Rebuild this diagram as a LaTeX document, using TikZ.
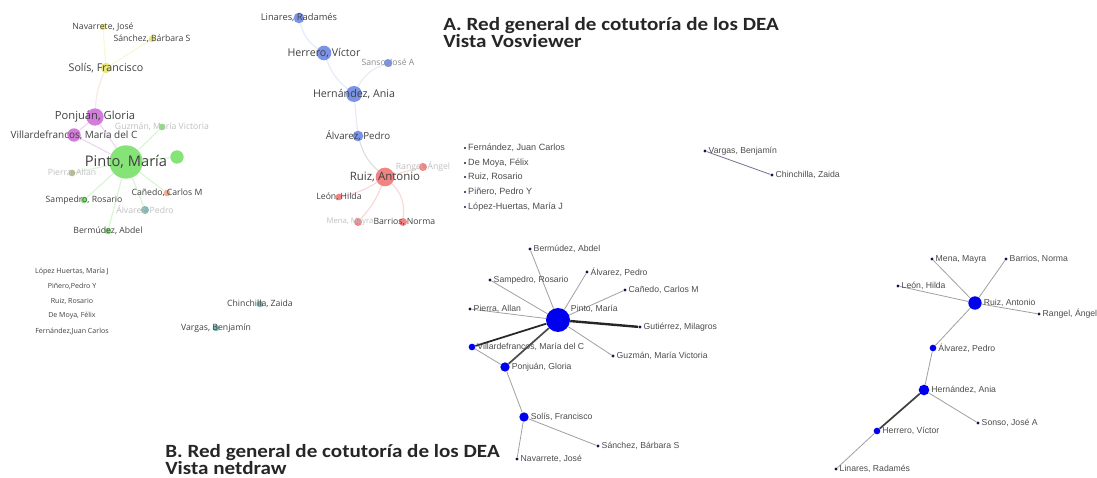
\documentclass[tikz,border=0pt]{standalone}
\usepackage{fontspec}
\setmainfont{Liberation Sans}
\newfontfamily\vosfont{Open Sans}
\newfontfamily\titlefont{Carlito}
\usetikzlibrary{%
    positioning,
    backgrounds
%   shapes, calc
}
\definecolor{vyellow}{HTML}{E6E25A}
\definecolor{vmagenta}{HTML}{C95AD2}
\definecolor{vgreen}{HTML}{66DC55}
\definecolor{vblue}{HTML}{5A78E0}
\definecolor{vred}{HTML}{EE6464}
\definecolor{vteal}{HTML}{5FA8AA}
\definecolor{volive}{HTML}{A8A870}
\definecolor{vsalmon}{HTML}{E89A7A}
\definecolor{ndblue}{HTML}{0000F0}
\definecolor{ndnavy}{HTML}{141448}
\tikzset{
    vnode/.style = {
        circle, draw=none, inner sep=0pt,
        fill opacity = 0.8, text opacity = 1,
    },
    vlab/.style  = {font=\vosfont\fontsize{6.5}{7}\selectfont, text=black!75, inner sep=0pt},
    vlabM/.style = {vlab, font=\vosfont\fontsize{8}{9}\selectfont},
    vlabL/.style = {vlab, font=\vosfont\fontsize{11}{12}\selectfont},
    vlabS/.style = {vlab, font=\vosfont\fontsize{5.3}{6}\selectfont},
    vfaint/.style = {vlab, text=black!25},
    vedge/.style = {line width=0.9pt, opacity=0.25},
    ndot/.style = {circle, fill=ndnavy, inner sep=0pt, minimum size=2.4pt},
    nbig/.style = {circle, fill=ndblue, inner sep=0pt},
    nlab/.style = {font=\fontsize{6.5}{7}\selectfont, text=black!70, inner sep=1.2pt},
    nedge/.style = {gray!75, line width=0.6pt},
    ntie/.style = {black!85, line width=1.8pt},
    titletext/.style = {font=\titlefont\bfseries\fontsize{14}{14}\selectfont, text=black!85, inner sep=0pt, anchor=base west},
}
\newcommand{\widetitle}[1]{\scalebox{1.13}[1]{#1}}

\begin{document}
\begin{tikzpicture}[x=0.75pt, y=-0.75pt]
    \useasboundingbox (0,0) rectangle (1097,478);

    % A. Vosviewer
    \node[titletext] (titleA1) at (443,31) {\widetitle{A. Red general de cotutoría de los DEA}};
    \node[titletext] (titleA2) at (443,48) {\widetitle{Vista Vosviewer}};

    \node[vnode, fill=vyellow, minimum size=5pt, label={[vlab]center:Navarrete, José}] (vnav) at (103,27) {};
    \node[vnode, fill=vyellow, minimum size=5pt, label={[vlab]center:Sánchez, Bárbara S}] (vsan) at (152,39) {};
    \node[vnode, fill=vyellow, minimum size=8pt, label={[vlabM]center:Solís, Francisco}] (vsol) at (106,68) {};
    \node[vnode, fill=vmagenta, minimum size=13pt, label={[vlabM, font=\vosfont\fontsize{8.4}{9}\selectfont]center:Ponjuán, Gloria}] (vpon) at (95,117) {};
    \node[vnode, fill=vmagenta, minimum size=10pt, label={[vlabM, font=\vosfont\fontsize{7.5}{8}\selectfont]center:Villardefrancos, María del C}] (vvil) at (74,135) {};
    \node[vnode, fill=vgreen, minimum size=25pt, label={[vlabL]center:Pinto, María}] (vpin) at (126,162) {};
    \node[vnode, fill=vgreen, minimum size=10pt] (vgut) at (177,157) {};
    \node[vnode, fill=vgreen, minimum size=5pt, label={[vfaint]center:Guzmán, María Victoria}] (vguz) at (162,127) {};
    \node[vnode, fill=volive, minimum size=5pt, label={[vfaint]center:Pierra, Allan}] (vpie) at (72,173) {};
    \node[vnode, fill=vsalmon, minimum size=5pt, label={[vlab]center:Cañedo, Carlos M}] (vcan) at (167,193) {};
    \node[vnode, fill=vgreen, minimum size=5pt, label={[vlab]center:Sampedro, Rosario}] (vsam) at (84,200) {};
    \node[vnode, fill=vteal, minimum size=6pt, label={[vfaint]center:Álvarez, Pedro}] (valv) at (145,210) {};
    \node[vnode, fill=vgreen, minimum size=5pt, label={[vlab]center:Bermúdez, Abdel}] (vber) at (108,231) {};

    \node[vnode, fill=vblue, minimum size=8pt, label={[vlab, font=\vosfont\fontsize{7}{8}\selectfont]center:Linares, Radamés}] (vlin) at (299,18) {};
    \node[vnode, fill=vblue, minimum size=11pt, label={[vlabM]center:Herrero, Víctor}] (vhrr) at (324,53) {};
    \node[vnode, fill=vblue, minimum size=6pt, label={[vfaint, text=black!45]center:Sanso, José A}] (vson) at (388,63) {};
    \node[vnode, fill=vblue, minimum size=12pt, label={[vlabM]center:Hernández, Ania}] (vher) at (354,94) {};
    \node[vnode, fill=vblue, minimum size=8pt, label={[vlabM, font=\vosfont\fontsize{7.3}{8}\selectfont]center:Álvarez, Pedro}] (valv2) at (358,136) {};
    \node[vnode, fill=vred, minimum size=14pt, label={[vlabM, font=\vosfont\fontsize{8.6}{9}\selectfont]center:Ruiz, Antonio}] (vrui) at (385,177) {};
    \node[vnode, fill=vred, minimum size=6pt, label={[vfaint]center:Rangel, Ángel}] (vran) at (423,167) {};
    \node[vnode, fill=vred, minimum size=5pt, label={[vlab]center:León, Hilda}] (vleo) at (339,197) {};
    \node[vnode, fill=vred, minimum size=6pt, label={[vfaint, font=\vosfont\fontsize{5.8}{6}\selectfont, xshift=-6pt]center:Mena, Mayra}] (vmen) at (358,222) {};
    \node[vnode, fill=vred, minimum size=6pt, label={[vlab, xshift=1pt]center:Barrios, Norma}] (vbar) at (403,222) {};

    \node[vlabS] (vlop) at (72,272) {López Huertas, María J};
    \node[vlabS] (vpiv) at (72,286) {Piñero,Pedro Y};
    \node[vlabS] (vros) at (72,301) {Ruiz, Rosario};
    \node[vlabS] (vmoy) at (72,316) {De Moya, Félix};
    \node[vlabS] (vfer) at (72,331) {Fernández,Juan Carlos};
    \node[vnode, fill=vteal, minimum size=5pt, label={[vlab]center:Chinchilla, Zaida}] (vchi) at (260,304) {};
    \node[vnode, fill=vteal, minimum size=5pt, label={[vlab]center:Vargas, Benjamín}] (vvar) at (216,328) {};

    \begin{scope}[on background layer]
        \draw[vedge, vyellow] (vnav) -- (vsol);
        \draw[vedge, vyellow] (vsan) -- (vsol);
        \draw[vedge, vyellow!60!vmagenta] (vsol) to[bend right=10] (vpon);
        \draw[vedge, vmagenta] (vpon) -- (vpin);
        \draw[vedge, vmagenta] (vvil) -- (vpin);
        \draw[vedge, vmagenta] (vvil) -- (vpon);
        \foreach \t in {vgut, vguz, vpie, vcan, vsam, valv, vber}
            \draw[vedge, vgreen] (vpin) -- (\t);
        \draw[vedge, vblue!60] (vlin) to[bend right=20] (vhrr);
        \draw[vedge, vblue!60] (vhrr) to[bend right=15] (vher);
        \draw[vedge, vblue!60] (vson) to[bend right=20] (vher);
        \draw[vedge, vblue!60] (vher) -- (valv2);
        \draw[vedge, gray] (valv2) to[bend right=15] (vrui);
        \draw[vedge, vred] (vrui) -- (vran);
        \draw[vedge, vred] (vrui) to[bend left=10] (vleo);
        \draw[vedge, vred] (vrui) to[bend left=10] (vmen);
        \draw[vedge, vred] (vrui) to[bend left=25] (vbar);
    \end{scope}

    % isolates
    \node[ndot, minimum size=1.6pt, label={[nlab, font=\fontsize{6.8}{7}\selectfont]right:Fernández, Juan Carlos}] (nfer) at (465,148) {};
    \node[ndot, minimum size=1.6pt, label={[nlab, font=\fontsize{6.8}{7}\selectfont]right:De Moya, Félix}] (nmoy) at (465,163) {};
    \node[ndot, minimum size=1.6pt, label={[nlab, font=\fontsize{6.8}{7}\selectfont]right:Ruiz, Rosario}] (nros) at (465,177) {};
    \node[ndot, minimum size=1.6pt, label={[nlab, font=\fontsize{6.8}{7}\selectfont]right:Piñero, Pedro Y}] (npiv) at (465,192) {};
    \node[ndot, minimum size=1.6pt, label={[nlab, font=\fontsize{6.8}{7}\selectfont]right:López-Huertas, María J}] (nlop) at (465,207) {};
    \node[ndot, label={[nlab]right:Vargas, Benjamín}] (nvar) at (705,151) {};
    \node[ndot, label={[nlab]right:Chinchilla, Zaida}] (nchi) at (772,175) {};

    % B. netdraw
    \node[titletext] (titleB1) at (165,457) {\widetitle{B. Red general de cotutoría de los DEA}};
    \node[titletext] (titleB2) at (165,474) {\widetitle{Vista netdraw}};

    \node[nbig, minimum size=18pt, label={[nlab]25:Pinto, María}] (npin) at (558,320) {};
    \node[ndot, label={[nlab]right:Bermúdez, Abdel}] (nber) at (530,249) {};
    \node[ndot, label={[nlab]right:Álvarez, Pedro}] (nalv) at (587,272) {};
    \node[ndot, label={[nlab]right:Sampedro, Rosario}] (nsam) at (490,280) {};
    \node[ndot, label={[nlab]right:Cañedo, Carlos M}] (ncan) at (625,290) {};
    \node[ndot, label={[nlab]right:Pierra, Allan}] (npie) at (470,309) {};
    \node[ndot, label={[nlab]right:Gutiérrez, Milagros}] (ngut) at (640,327) {};
    \node[nbig, minimum size=5pt, label={[nlab]right:Villardefrancos, María del C}] (nvil) at (472,347) {};
    \node[ndot, label={[nlab]right:Guzmán, María Victoria}] (nguz) at (613,356) {};
    \node[nbig, minimum size=7pt, label={[nlab]right:Ponjuán, Gloria}] (npon) at (505,367) {};
    \node[nbig, minimum size=7pt, label={[nlab]right:Solís, Francisco}] (nsol) at (524,417) {};
    \node[ndot, label={[nlab]right:Sánchez, Bárbara S}] (nsac) at (598,446) {};
    \node[ndot, label={[nlab]right:Navarrete, José}] (nnav) at (517,459) {};

    \node[nbig, minimum size=10pt, label={[nlab]right:Ruiz, Antonio}] (nrui) at (975,303) {};
    \node[ndot, label={[nlab]right:Mena, Mayra}] (nmen) at (932,259) {};
    \node[ndot, label={[nlab]right:Barrios, Norma}] (nbar) at (1006,259) {};
    \node[ndot, label={[nlab]right:León, Hilda}] (nleo) at (898,286) {};
    \node[ndot, label={[nlab]right:Rangel, Ángel}] (nran) at (1039,314) {};
    \node[nbig, minimum size=5pt, label={[nlab]right:Álvarez, Pedro}] (nalv2) at (933,348) {};
    \node[nbig, minimum size=8pt, label={[nlab]right:Hernández, Ania}] (nher) at (924,390) {};
    \node[ndot, label={[nlab]right:Sonso, José A}] (nson) at (978,423) {};
    \node[nbig, minimum size=5pt, label={[nlab]right:Herrero, Víctor}] (nhrr) at (877,431) {};
    \node[ndot, label={[nlab]right:Linares, Radamés}] (nlin) at (836,469) {};

    \begin{scope}[on background layer]
        \draw[nedge, ndnavy!60] (nvar) -- (nchi);
        \foreach \t in {nber, nalv, nsam, ncan, npie, nguz}
            \draw[nedge] (npin) -- (\t);
        \draw[ntie] (npin) -- (ngut);
        \draw[ntie, line width=1.3pt] (npin) -- (nvil);
        \draw[ntie, black!70, line width=1.3pt] (npin) -- (npon);
        \draw[nedge] (nvil) -- (npon);
        \draw[nedge] (npon) -- (nsol);
        \draw[nedge] (nsol) -- (nsac);
        \draw[nedge] (nsol) -- (nnav);
        \foreach \t in {nmen, nbar, nleo, nran, nalv2}
            \draw[nedge] (nrui) -- (\t);
        \draw[nedge] (nalv2) -- (nher);
        \draw[nedge] (nher) -- (nson);
        \draw[ntie, black!75, line width=1.3pt] (nher) -- (nhrr);
        \draw[nedge] (nhrr) -- (nlin);
    \end{scope}
\end{tikzpicture}
\end{document}
